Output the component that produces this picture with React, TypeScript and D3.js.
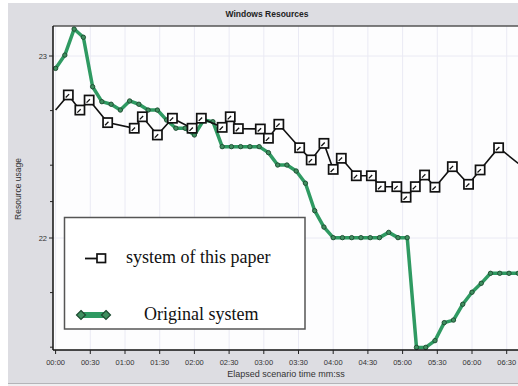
import React from "react";
import * as d3 from "d3";

const TITLE = "Windows Resources";
const X_TITLE = "Elapsed scenario time mm:ss";
const Y_TITLE = "Resource usage";
const X_TICK_LABELS = ["00:00","00:30","01:00","01:30","02:00","02:30","03:00","03:30","04:00","04:30","05:00","05:30","06:00","06:30"];
const Y_LABELED = [23, 22];
const Y_MINOR = [22.7, 22.4, 22.2, 21.7, 21.4];

// system of this paper (time in seconds, value)
const PAPER_T = [0, 11, 21, 29, 45, 68, 75, 88, 101, 118, 126, 144, 151, 158, 177, 184, 193, 211, 221, 232, 240, 247, 260, 273, 281, 295, 303, 311, 319, 328, 343, 357, 367, 383, 400];
const PAPER_V = [22.703, 22.786, 22.703, 22.758, 22.634, 22.603, 22.666, 22.566, 22.658, 22.603, 22.658, 22.608, 22.666, 22.601, 22.599, 22.548, 22.625, 22.496, 22.429, 22.520, 22.377, 22.438, 22.342, 22.342, 22.282, 22.282, 22.224, 22.282, 22.346, 22.279, 22.392, 22.295, 22.374, 22.496, 22.410];

// Original system, sampled every 8 s
const ORIG_STEP = 8;
const ORIG_V = [22.932, 23.005, 23.148, 23.103, 22.831, 22.749, 22.735, 22.703, 22.753, 22.735,
  22.703, 22.703, 22.648, 22.603, 22.603, 22.566, 22.648, 22.639, 22.502, 22.502,
  22.502, 22.502, 22.502, 22.469, 22.401, 22.401, 22.368, 22.301, 22.150, 22.060,
  22.002, 22.002, 22.002, 22.002, 22.002, 22.002, 22.031, 22.002, 22.002, 21.399,
  21.399, 21.436, 21.535, 21.549, 21.636, 21.702, 21.751, 21.806, 21.806, 21.806, 21.806];

const LEGEND = ["system of this paper", "Original system"];

const GREEN = "#2f9a62";
const GREEN_DARK = "#1d4a30";

export default function App() {
  const W = 518, H = 386;
  const left = 53, right = 518, top = 26, bottom = 350;
  const x = d3.scaleLinear().domain([0, 390]).range([55.6, 506.7]);
  const y = d3.scaleLinear().domain([22, 23]).range([238, 56]);

  const paper = PAPER_T.map((t, i) => [t, PAPER_V[i]] as [number, number]);
  const orig = ORIG_V.map((v, i) => [i * ORIG_STEP, v] as [number, number]);
  const line = d3.line<[number, number]>().x(d => x(d[0])).y(d => y(d[1]));

  const sans = "'Liberation Sans', Arial, sans-serif";
  const serif = "'Liberation Serif', 'Times New Roman', serif";

  return (
    <svg width={W} height={H} style={{ position: "absolute", left: 0, top: 0 }} xmlns="http://www.w3.org/2000/svg">
      <rect x={0} y={0} width={W} height={H} fill="#ffffff" />
      <rect x={8} y={3} width={W - 8} height={380} fill="#dddde2" />
      <rect x={8} y={383} width={W - 8} height={3} fill="#efeff1" />
      <line x1={8} x2={W} y1={383.5} y2={383.5} stroke="#b4b4b8" strokeWidth={1} />
      <text x={267} y={17} textAnchor="middle" fontFamily={sans} fontWeight="bold" fontSize={8.5} fill="#222">{TITLE}</text>

      <defs>
        <clipPath id="plotclip">
          <rect x={left} y={top - 6} width={right - left} height={bottom - top + 10} />
        </clipPath>
      </defs>

      <rect x={left} y={top} width={right - left} height={bottom - top} fill="#fdfdfe" />
      {/* grid */}
      {X_TICK_LABELS.map((_, i) => (
        <line key={"gx" + i} x1={x(i * 30)} x2={x(i * 30)} y1={top} y2={bottom} stroke="#eaeaf4" strokeWidth={1} />
      ))}
      {Y_LABELED.map(v => (
        <line key={"gy" + v} x1={left} x2={right} y1={y(v)} y2={y(v)} stroke="#eaeaf4" strokeWidth={1} />
      ))}
      <line x1={left} x2={right} y1={top} y2={top} stroke="#555" strokeWidth={1.5} />

      <g clipPath="url(#plotclip)">
        <path d={line(orig) || ""} fill="none" stroke={GREEN} strokeWidth={3.5} strokeLinejoin="round" />
        {orig.map((d, i) => (
          <circle key={"o" + i} cx={x(d[0])} cy={y(d[1])} r={2.2} fill="#3f8f5f" stroke={GREEN_DARK} strokeWidth={0.9} />
        ))}
        <path d={line(paper) || ""} fill="none" stroke="#111" strokeWidth={1.6} />
        {paper.map((d, i) => {
          if (i === 0 || i === paper.length - 1) return null;
          const cx = x(d[0]), cy = y(d[1]);
          return (
            <g key={"p" + i}>
              <rect x={cx - 4.6} y={cy - 4.6} width={9.2} height={9.2} fill="#ffffff" stroke="#111" strokeWidth={1.7} />
              <line x1={cx - 2.6} y1={cy + 2.6} x2={cx + 0.8} y2={cy - 0.8} stroke="#111" strokeWidth={1.3} />
            </g>
          );
        })}
      </g>

      {/* axes */}
      <line x1={left} x2={left} y1={top} y2={bottom} stroke="#111" strokeWidth={1.5} />
      <line x1={left} x2={right} y1={bottom} y2={bottom} stroke="#111" strokeWidth={1.5} />
      {X_TICK_LABELS.map((lab, i) => (
        <g key={"xt" + i}>
          <line x1={x(i * 30)} x2={x(i * 30)} y1={bottom} y2={bottom + 4} stroke="#222" strokeWidth={1} />
          <text x={x(i * 30)} y={365} textAnchor="middle" fontFamily={sans} fontSize={7.5} fill="#333">{lab}</text>
        </g>
      ))}
      <text x={286} y={377} textAnchor="middle" fontFamily={sans} fontSize={9} fill="#333">{X_TITLE}</text>
      {Y_LABELED.map(v => (
        <g key={"yt" + v}>
          <line x1={left - 4} x2={left} y1={y(v)} y2={y(v)} stroke="#222" strokeWidth={1} />
          <text x={left - 6} y={y(v) + 2.7} textAnchor="end" fontFamily={sans} fontSize={7.5} fill="#333">{v}</text>
        </g>
      ))}
      {Y_MINOR.map(v => (
        <line key={"ym" + v} x1={left - 3} x2={left} y1={y(v)} y2={y(v)} stroke="#222" strokeWidth={1} />
      ))}
      <text transform={`translate(21,189) rotate(-90)`} textAnchor="middle" fontFamily={sans} fontSize={8.5} fill="#333">{Y_TITLE}</text>

      {/* legend */}
      <rect x={64.5} y={217.5} width={240.5} height={111.5} fill="#ffffff" stroke="#555" strokeWidth={1.5} />
      <line x1={85} x2={100} y1={258.5} y2={258.5} stroke="#111" strokeWidth={1.8} />
      <rect x={97} y={254} width={8.5} height={8.5} fill="#fff" stroke="#111" strokeWidth={1.7} />
      <text x={126} y={263} fontFamily={serif} fontSize={18} fill="#111">{LEGEND[0]}</text>
      <line x1={81} x2={106} y1={315} y2={315} stroke={GREEN} strokeWidth={6} />
      <path d="M81,310.5 L85.5,315 L81,319.5 L76.5,315 Z" fill="#3f8f5f" stroke={GREEN_DARK} strokeWidth={1.2} />
      <path d="M106,310.5 L110.5,315 L106,319.5 L101.5,315 Z" fill="#3f8f5f" stroke={GREEN_DARK} strokeWidth={1.2} />
      <text x={144} y={320} fontFamily={serif} fontSize={18} fill="#111">{LEGEND[1]}</text>
    </svg>
  );
}
